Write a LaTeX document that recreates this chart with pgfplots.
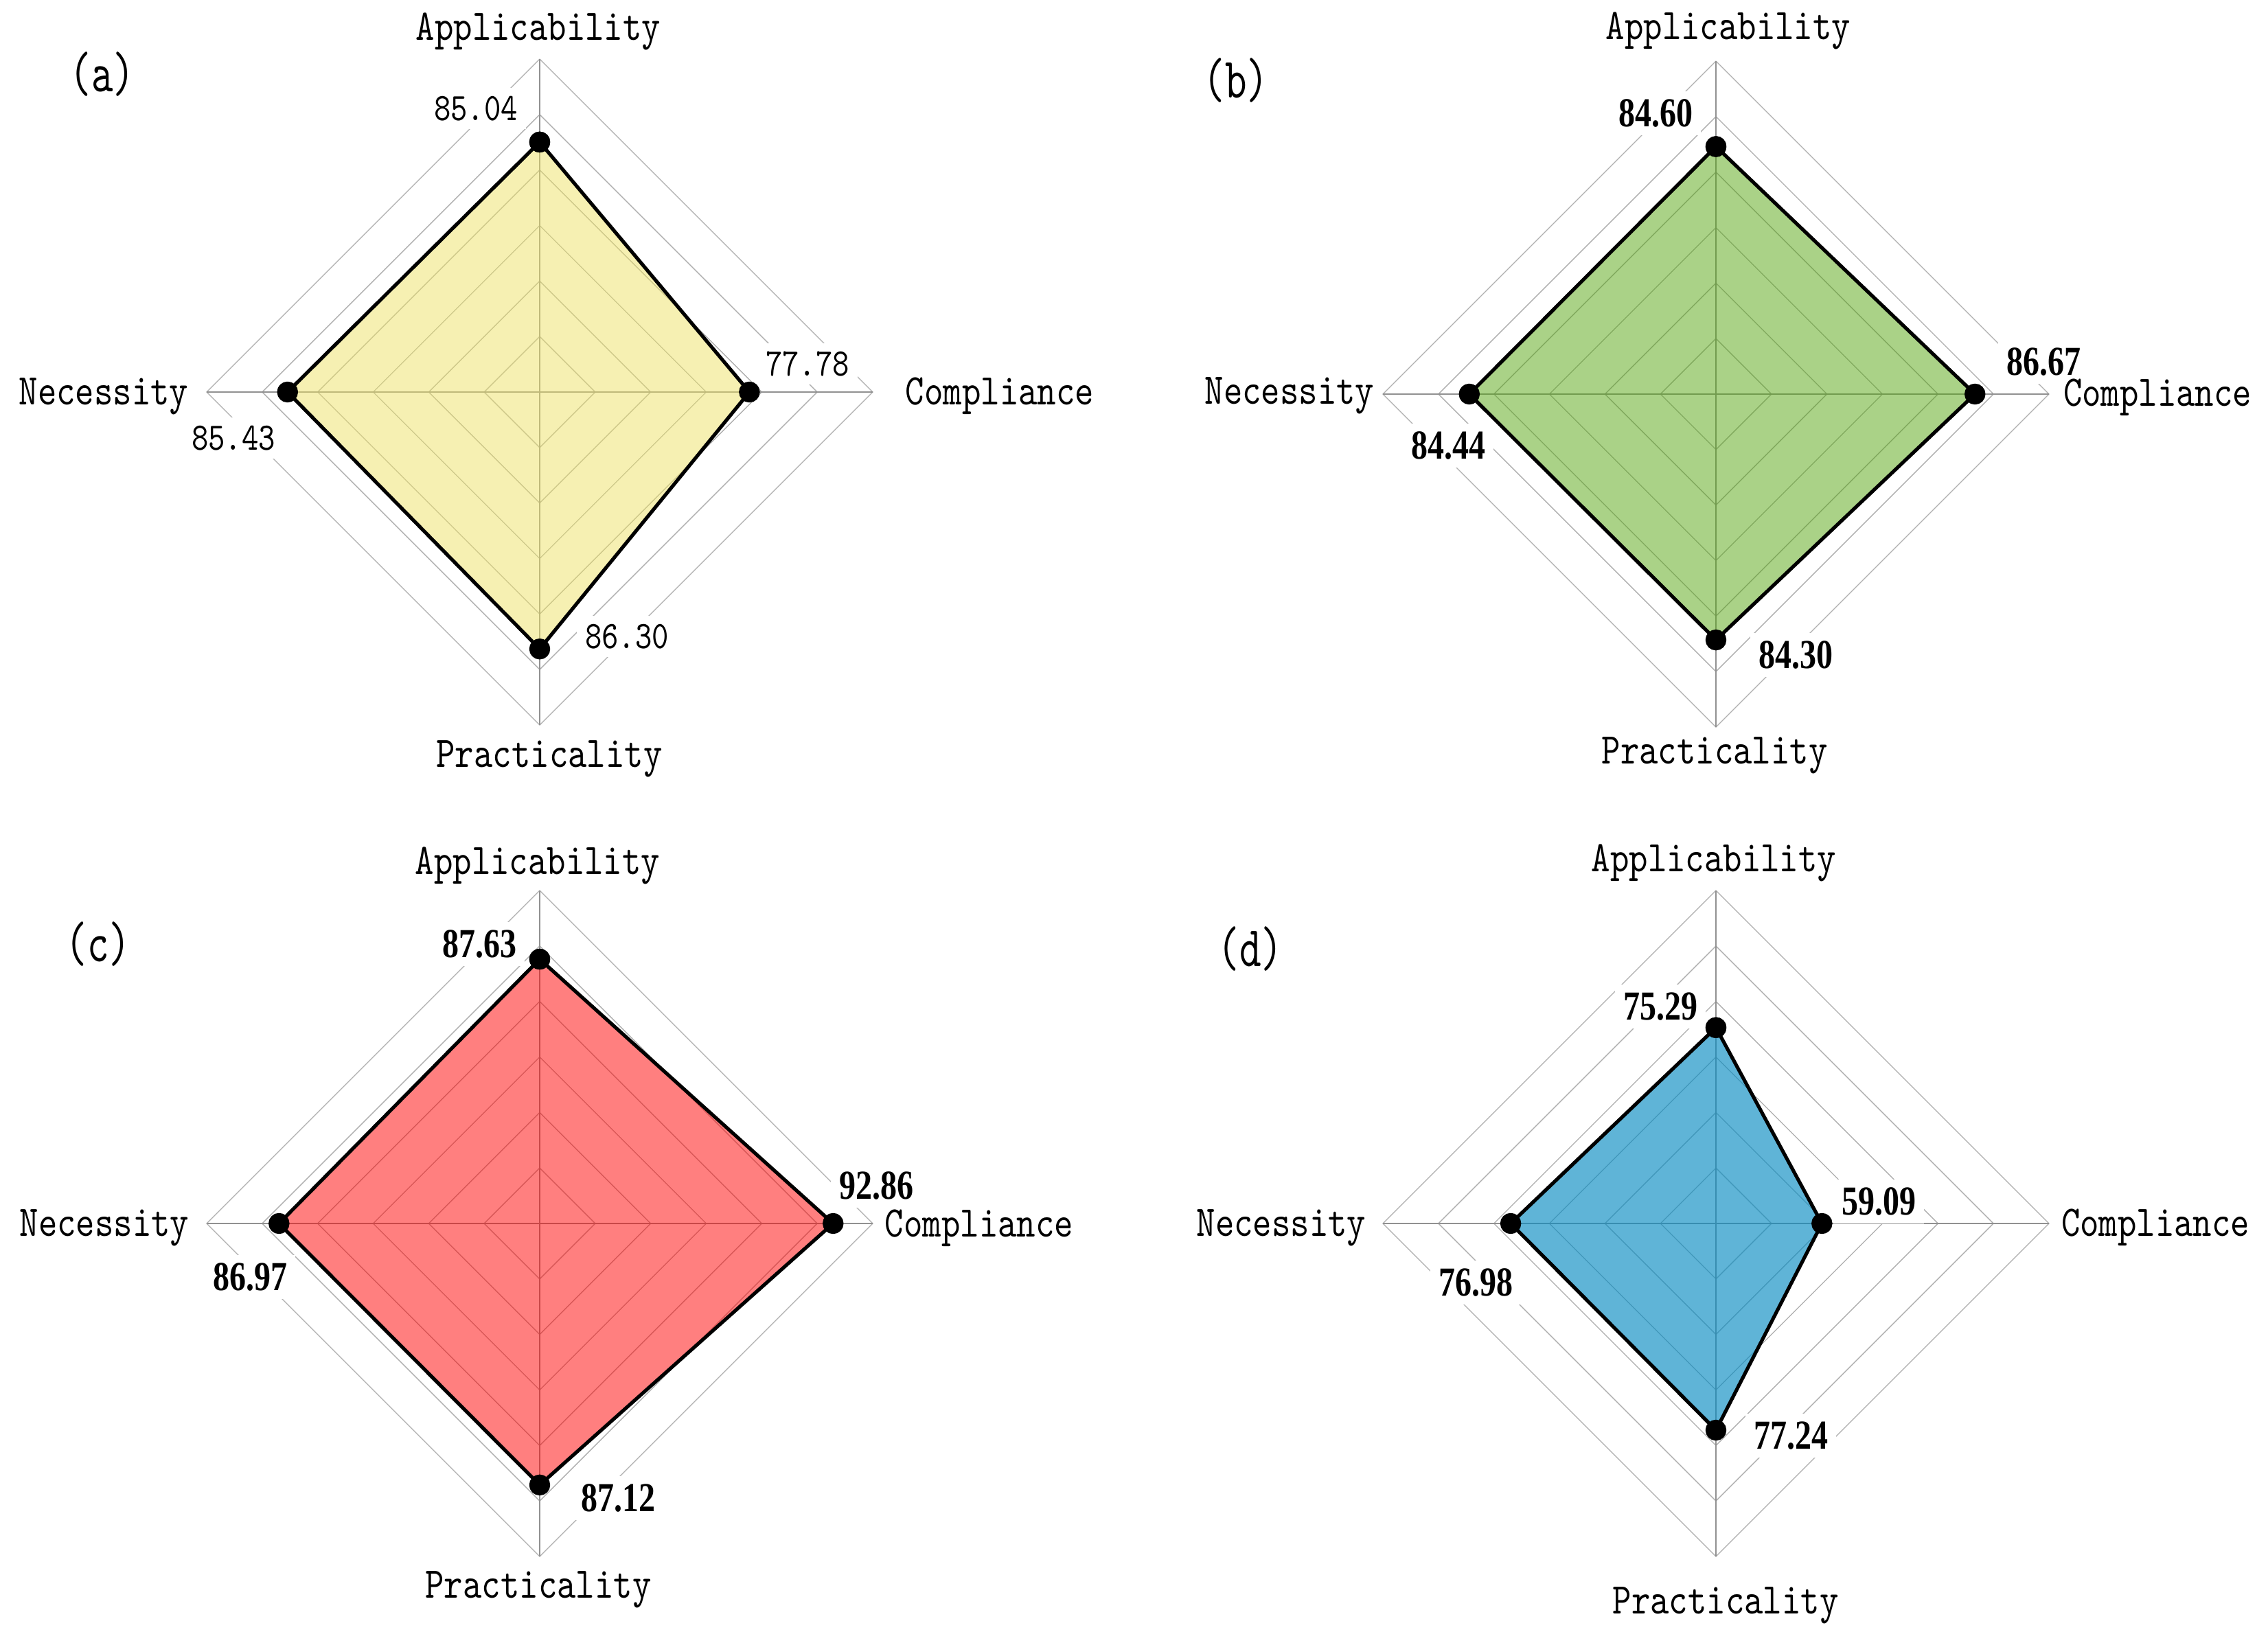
\documentclass[border=0pt]{standalone}
\usepackage{pgfplots}
\pgfplotsset{compat=1.18}
\usepackage{pgfplotstable}
\usepackage{fontspec}
\newfontfamily\labfont{lmmono10-regular.otf}[FakeStretch=0.82]
\newfontfamily\panfont{lmmono10-regular.otf}[FakeStretch=0.72]
\newfontfamily\valfont[FakeStretch=0.8]{Liberation Serif}
\definecolor{ringc}{RGB}{175,175,175}
\definecolor{spokec}{RGB}{145,145,145}
\definecolor{fillA}{RGB}{237,225,101}
\definecolor{fillB}{RGB}{85,165,15}
\definecolor{fillC}{RGB}{255,0,0}
\definecolor{fillD}{RGB}{9,140,194}

\pgfplotstableread{
dx dy v
0 1 85.04
1 0 77.78
0 -1 86.30
-1 0 85.43
0 1 85.04
}\tabA
\pgfplotstableread{
dx dy v
0 1 84.60
1 0 86.67
0 -1 84.30
-1 0 84.44
0 1 84.60
}\tabB
\pgfplotstableread{
dx dy v
0 1 87.63
1 0 92.86
0 -1 87.12
-1 0 86.97
0 1 87.63
}\tabC
\pgfplotstableread{
dx dy v
0 1 75.29
1 0 59.09
0 -1 77.24
-1 0 76.98
0 1 75.29
}\tabD

\pgfplotsset{radar/.style={width=291pt,height=291pt,scale only axis,
  xmin=-60,xmax=60,ymin=-60,ymax=60,hide axis,clip=false,anchor=center}}

\newcommand\radargrid{%
  \pgfplotsinvokeforeach{10,20,30,40,50,60}{%
    \addplot[ringc, line width=0.4pt] coordinates {(0,##1) (##1,0) (0,-##1) (-##1,0) (0,##1)};}
  \addplot[spokec, line width=0.6pt] coordinates {(0,60) (0,-60)};
  \addplot[spokec, line width=0.6pt] coordinates {(-60,0) (60,0)};
}
\newcommand\radardata[3]{%
  \addplot[draw=black, line width=1.55pt, line join=round, fill=#2, fill opacity=#3,
    mark=*, mark size=3.8pt, mark options={fill=black, draw=black, fill opacity=1, solid}]
    table[x expr={\thisrow{dx}*(\thisrow{v}-40)}, y expr={\thisrow{dy}*(\thisrow{v}-40)}] {#1};
}

\tikzset{
  lab/.style={font=\labfont\fontsize{19.1pt}{22pt}\selectfont, inner sep=0pt},
  val/.style={font=\labfont\fontsize{17pt}{20pt}\selectfont, fill=white, inner sep=3.5pt},
  bval/.style={font=\valfont\bfseries\fontsize{18pt}{20pt}\selectfont, fill=white, inner sep=3.5pt},
  pan/.style={font=\panfont\fontsize{25pt}{28pt}\selectfont, inner sep=0pt},
}

\begin{document}
\begin{tikzpicture}
\useasboundingbox (0,0) rectangle (990.9pt,712.8pt);
% grids
\begin{axis}[radar, at={(235.8pt,541.5pt)}] \radargrid \end{axis}
\begin{axis}[radar, at={(749.7pt,540.6pt)}] \radargrid \end{axis}
\begin{axis}[radar, at={(235.8pt,178.2pt)}] \radargrid \end{axis}
\begin{axis}[radar, at={(749.7pt,178.2pt)}] \radargrid \end{axis}
% value labels (white boxes)
\begin{scope}[x=0.3pt,y=-0.3pt,yshift=712.8pt]
  \node[val] at (693,158) {85.04};
  \node[val] at (1176,530) {77.78};
  \node[val] at (340,638) {85.43};
  \node[val] at (913,927) {86.30};
  \node[bval] at (2411,165) {84.60};
  \node[bval] at (2976,527) {86.67};
  \node[bval] at (2109,649) {84.44};
  \node[bval] at (2615,954) {84.30};
  \node[bval] at (698,1375) {87.63};
  \node[bval] at (1276,1727) {92.86};
  \node[bval] at (364,1860) {86.97};
  \node[bval] at (900,2182) {87.12};
  \node[bval] at (2418,1466) {75.29};
  \node[bval] at (2736,1750) {59.09};
  \node[bval] at (2149,1868) {76.98};
  \node[bval] at (2608,2091) {77.24};
  % axis labels and panel labels
  \node[lab] at (784,46) {Applicability};
  \node[lab] at (1456,577) {Compliance};
  \node[lab] at (151,577) {Necessity};
  \node[lab] at (800,1105) {Practicality};
  \node[pan] at (149,108) {(a)};
  \node[lab] at (2517,45) {Applicability};
  \node[lab] at (3142,579) {Compliance};
  \node[lab] at (1878,576) {Necessity};
  \node[lab] at (2497,1100) {Practicality};
  \node[pan] at (1800,117) {(b)};
  \node[lab] at (783,1261) {Applicability};
  \node[lab] at (1426,1789) {Compliance};
  \node[lab] at (152,1788) {Necessity};
  \node[lab] at (784,2315) {Practicality};
  \node[pan] at (143,1375) {(c)};
  \node[lab] at (2496,1257) {Applicability};
  \node[lab] at (3139,1788) {Compliance};
  \node[lab] at (1866,1788) {Necessity};
  \node[lab] at (2513,2338) {Practicality};
  \node[pan] at (1821,1382) {(d)};
\end{scope}
% data
\begin{axis}[radar, at={(235.8pt,541.5pt)}] \radardata{\tabA}{fillA}{0.5} \end{axis}
\begin{axis}[radar, at={(749.7pt,540.6pt)}] \radardata{\tabB}{fillB}{0.5} \end{axis}
\begin{axis}[radar, at={(235.8pt,178.2pt)}] \radardata{\tabC}{fillC}{0.5} \end{axis}
\begin{axis}[radar, at={(749.7pt,178.2pt)}] \radardata{\tabD}{fillD}{0.65} \end{axis}
\end{tikzpicture}
\end{document}
